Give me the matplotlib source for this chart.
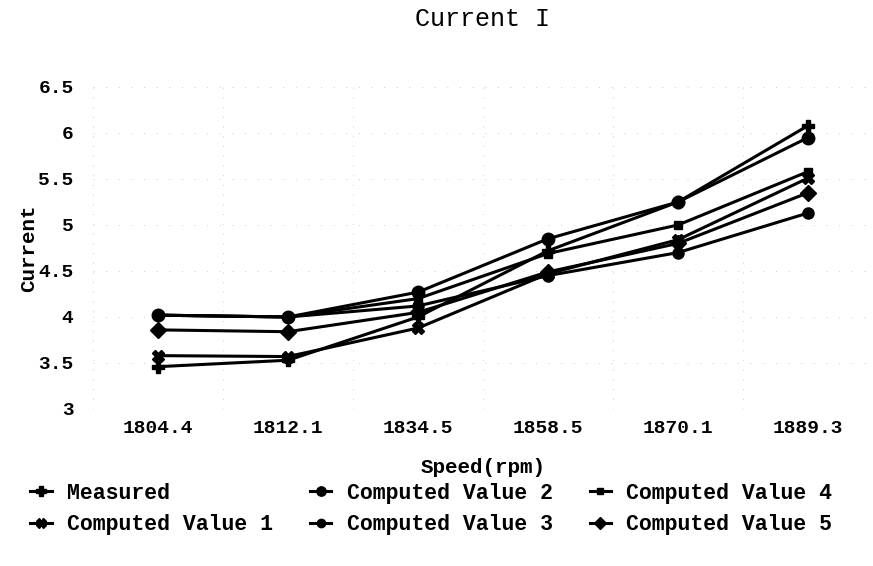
import matplotlib
matplotlib.use("Agg")
import matplotlib.pyplot as plt
import numpy as np

# chart data
speeds = ["1804.4", "1812.1", "1834.5", "1858.5", "1870.1", "1889.3"]
measured = [3.46, 3.53, 4.00, 4.72, 5.25, 6.08]
computed_1 = [3.58, 3.57, 3.88, 4.47, 4.84, 5.51]
computed_2 = [4.02, 4.00, 4.27, 4.85, 5.25, 5.95]
computed_3 = [4.02, 4.00, 4.12, 4.45, 4.70, 5.13]
computed_4 = [4.02, 4.00, 4.20, 4.69, 5.00, 5.58]
computed_5 = [3.86, 3.84, 4.05, 4.49, 4.80, 5.35]

series = [
    ("Measured", measured, "P", 9),
    ("Computed Value 1", computed_1, "X", 9),
    ("Computed Value 2", computed_2, "o", 9),
    ("Computed Value 3", computed_3, "o", 8),
    ("Computed Value 4", computed_4, "s", 6),
    ("Computed Value 5", computed_5, "D", 8),
]

plt.rcParams["font.family"] = ["Liberation Mono", "DejaVu Sans Mono"]

fig = plt.figure(figsize=(8.73, 5.66), dpi=100)
ax = fig.add_axes([0.1065, 0.2774, 0.8935, 0.5689])

x = np.arange(len(speeds)) + 0.5
for name, vals, marker, ms in series:
    ax.plot(x, vals, color="black", lw=2.2, marker=marker, markersize=ms,
            label=name)

ax.set_xlim(0, 6)
ax.set_ylim(3, 6.5)
ax.set_xticks(x)
ax.set_xticklabels(speeds, fontsize=14, fontweight="bold")
ax.set_yticks(np.arange(3, 6.51, 0.5))
ax.set_yticklabels(["3", "3.5", "4", "4.5", "5", "5.5", "6", "6.5"],
                   fontsize=14, fontweight="bold")
ax.tick_params(axis="y", length=0, pad=14)
ax.tick_params(axis="x", length=0, pad=8)

# faint sparse dotted grid, like the scanned original
for yv in np.arange(3, 6.51, 0.5):
    ax.axhline(yv, color="#cccccc", lw=0.7, ls=(0, (1, 12)), zorder=0)
for xv in range(0, 6):
    ax.axvline(xv, color="#cccccc", lw=0.7, ls=(0, (1, 9)), zorder=0)

for s in ax.spines.values():
    s.set_visible(False)

ax.set_title("Current I", fontsize=18, pad=44)
ax.set_xlabel("Speed(rpm)", fontsize=15, fontweight="bold", labelpad=15)
ax.set_ylabel("Current", fontsize=15, fontweight="bold", labelpad=0)

fig.legend(loc="lower center", bbox_to_anchor=(0.494, 0.02), ncol=3,
           frameon=False, handlelength=1.0, handletextpad=0.7,
           columnspacing=1.72, labelspacing=0.5,
           prop={"weight": "bold", "size": 15.5}, markerscale=0.75)

fig.savefig("out.png", dpi=100, facecolor="white")
